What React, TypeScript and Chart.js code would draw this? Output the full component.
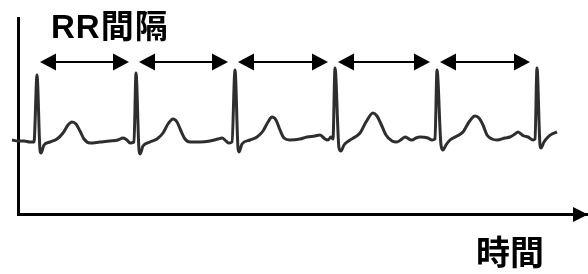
import React, { useEffect, useRef } from "react";
import { Chart, registerables } from "chart.js";

Chart.register(...registerables);

// ECG trace: time (ms) and amplitude (mV)
const timeMs = [
  -48, 0, 48, 96, 128, 152, 176, 184, 208, 256, 312, 360, 400, 432, 464, 496, 528, 576, 656, 736, 800, 840, 872, 896, 928,
  944, 968, 976, 1000, 1056, 1112, 1160, 1200, 1240, 1272, 1304, 1336, 1376, 1456, 1536, 1600, 1632, 1664, 1688, 1712,
  1736, 1760, 1768, 1792, 1856, 1912, 1960, 2000, 2032, 2064, 2096, 2128, 2176, 2256, 2312, 2376, 2416, 2456, 2480, 2504, 2520,
  2536, 2568, 2584, 2608, 2656, 2696, 2736, 2784, 2840, 2872, 2904, 2944, 2992, 3032, 3072, 3096, 3128, 3152, 3184, 3216, 3280, 3312, 3336,
  3352, 3384, 3400, 3424, 3456, 3512, 3560, 3608, 3656, 3688, 3720, 3752, 3792, 3832, 3896, 3936, 3976, 4000, 4024, 4048, 4080, 4120, 4136,
  4152, 4176, 4184, 4208, 4240, 4272, 4312,
];
const milliVolts = [
  0.02, 0, 0, -0.02, -0.02, 1.32, -0.18, -0.24, -0.08, -0.02, 0.04, 0.16, 0.32, 0.38, 0.34, 0.2, 0.04, -0.04, -0.02, 0, 0.02, 0.06, 0.02, -0.04, -0.02,
  1.36, -0.18, -0.26, -0.1, -0.02, 0.04, 0.16, 0.34, 0.44, 0.38, 0.2, 0.04, -0.02, -0.02, 0, 0.04, 0.06, 0, -0.04, -0.02,
  1.42, -0.14, -0.22, -0.06, 0.02, 0.08, 0.2, 0.38, 0.48, 0.42, 0.22, 0.06, 0.02, 0.04, 0.08, 0.1, 0.12, 0.04, 0.02, 0.08, 0.04,
  1.46, -0.14, -0.2, -0.08, 0.02, 0.08, 0.16, 0.38, 0.56, 0.5, 0.34, 0.12, 0, -0.02, 0.04, 0.08, 0.04, 0.02, 0.06, 0.08, 0.06, 0.02, 0.04,
  1.42, -0.08, -0.18, -0.08, 0.02, 0.1, 0.18, 0.38, 0.5, 0.46, 0.32, 0.12, 0.04, 0.02, 0.06, 0.08, 0.14, 0.18, 0.14, 0.1, 0.08, 0.02, 0.04,
  1.46, -0.08, -0.14, -0.02, 0.08, 0.14, 0.18,
];

// R peaks (ms) used for the RR-interval arrows
const rPeakMs = [152, 944, 1736, 2536, 3352, 4152];
const rrArrowLevelMv = 1.58;

const titleText = "RR間隔";
const xAxisLabel = "時間";

const X_MIN = 0;
const X_MAX = 4560;
const Y_MIN = -1.46;
const Y_MAX = 2.46;

const decorPlugin = {
  id: "ecgDecor",
  afterDraw(chart: any) {
    const { ctx, chartArea, scales } = chart;
    const x = scales.x;
    const y = scales.y;
    ctx.save();
    ctx.strokeStyle = "#000";
    ctx.fillStyle = "#000";

    // RR interval double arrows
    const ay = y.getPixelForValue(rrArrowLevelMv);
    const head = 16;
    const half = 8.5;
    ctx.lineWidth = 2;
    for (let i = 0; i < rPeakMs.length - 1; i++) {
      const a = x.getPixelForValue(rPeakMs[i]) + 3;
      const b = x.getPixelForValue(rPeakMs[i + 1]) - 7;
      ctx.beginPath();
      ctx.moveTo(a + head - 1, ay);
      ctx.lineTo(b - head + 1, ay);
      ctx.stroke();
      ctx.beginPath();
      ctx.moveTo(a, ay);
      ctx.lineTo(a + head, ay - half);
      ctx.lineTo(a + head, ay + half);
      ctx.closePath();
      ctx.fill();
      ctx.beginPath();
      ctx.moveTo(b, ay);
      ctx.lineTo(b - head, ay - half);
      ctx.lineTo(b - head, ay + half);
      ctx.closePath();
      ctx.fill();
    }

    // x-axis arrowhead
    const axY = chartArea.bottom + 0.5;
    const tip = chartArea.right;
    ctx.beginPath();
    ctx.moveTo(tip, axY);
    ctx.lineTo(tip - 15, axY - 7.5);
    ctx.lineTo(tip - 15, axY + 7.5);
    ctx.closePath();
    ctx.fill();

    // texts
    ctx.textAlign = "left";
    ctx.textBaseline = "alphabetic";
    ctx.font = "bold 33px 'Liberation Sans', 'Noto Sans CJK JP', sans-serif";
    (ctx as any).letterSpacing = "1px";
    ctx.fillText(titleText, 51, 38);
    (ctx as any).letterSpacing = "0px";
    ctx.font = "bold 34px 'Noto Sans CJK JP', sans-serif";
    ctx.fillText(xAxisLabel, 476, 265);
    ctx.restore();
  },
};

export default function App() {
  const canvasRef = useRef<HTMLCanvasElement | null>(null);

  useEffect(() => {
    document.body.style.margin = "0";
    const canvas = canvasRef.current;
    if (!canvas) return;
    const chart = new Chart(canvas, {
      type: "line",
      data: {
        datasets: [
          {
            data: timeMs.map((t, i) => ({ x: t, y: milliVolts[i] })),
            borderColor: "#2e2e2e",
            borderWidth: 3,
            pointRadius: 0,
            cubicInterpolationMode: "monotone",
            clip: false as any,
          },
        ],
      },
      options: {
        animation: false,
        responsive: true,
        maintainAspectRatio: false,
        events: [],
        layout: { padding: { left: 18, top: 18, right: 0, bottom: 60 } },
        plugins: {
          legend: { display: false },
          tooltip: { enabled: false },
          title: { display: false },
        },
        scales: {
          x: {
            type: "linear",
            min: X_MIN,
            max: X_MAX,
            ticks: { display: false },
            grid: { display: false, drawTicks: false },
            border: { display: true, color: "#000", width: 3 },
          },
          y: {
            type: "linear",
            min: Y_MIN,
            max: Y_MAX,
            ticks: { display: false },
            grid: { display: false, drawTicks: false },
            border: { display: true, color: "#000", width: 3 },
          },
        },
      },
      plugins: [decorPlugin],
    });
    return () => chart.destroy();
  }, []);

  return (
    <div style={{ width: 588, height: 274, position: "relative", background: "#fff" }}>
      <canvas ref={canvasRef} />
    </div>
  );
}
